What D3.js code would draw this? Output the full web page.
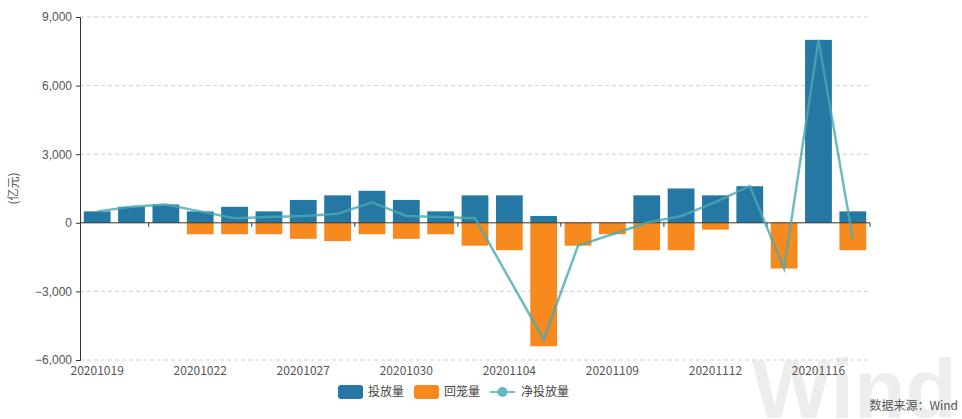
<!DOCTYPE html>
<html>
<head>
<meta charset="utf-8">
<script src="https://cdn.jsdelivr.net/npm/d3@7"></script>
<style>
  body { margin: 0; background: #fff; }
  svg { display: block; font-family: "Noto Sans CJK SC", "Noto Sans", sans-serif; }
</style>
</head>
<body>
<div id="chart"></div>
<script>
(function() {
    // Data (亿元)
    var dates = ["20201019", "20201020", "20201021", "20201022", "20201023", "20201026",
        "20201027", "20201028", "20201029", "20201030", "20201102", "20201103",
        "20201104", "20201105", "20201106", "20201109", "20201110", "20201111",
        "20201112", "20201113", "20201115", "20201116", "20201117"];
    var injection = [500, 700, 800, 500, 700, 500, 1000, 1200, 1400, 1000, 500, 1200,
        1200, 300, 0, 0, 1200, 1500, 1200, 1600, 0, 8000, 500];
    var maturity = [0, 0, 0, -500, -500, -500, -700, -800, -500, -700, -500, -1000,
        -1200, -5400, -1000, -500, -1200, -1200, -300, 0, -2000, 0, -1200];
    var netInjection = [500, 700, 800, 500, 200, 250, 300, 400, 900, 300, 250, 200,
        -2450, -5100, -1000, -500, 0, 300, 900, 1600, -2000, 8000, -700];
    var yTicks = [-6000, -3000, 0, 3000, 6000, 9000];
    var labelEvery = 3;
    var seriesNames = ["投放量", "回笼量", "净投放量"];

    var blue = "#2577a4", orange = "#f68a1e", teal = "#4aa9b1";

    var W = 962, H = 419;
    var margin = {top: 17, right: 92, bottom: 59, left: 80};
    var width = W - margin.left - margin.right,
        height = H - margin.top - margin.bottom;

    var svg = d3.select("#chart").append("svg")
        .attr("width", W)
        .attr("height", H);

    // Watermark behind everything
    svg.append("text")
        .attr("x", 752)
        .attr("y", 418)
        .attr("font-family", "Liberation Sans, Arial, sans-serif")
        .attr("font-weight", "bold")
        .attr("font-size", "84px")
        .attr("fill", "#ededed")
        .text("Wind");

    var g = svg.append("g")
        .attr("transform", "translate(" + margin.left + "," + margin.top + ")");

    // Scales
    var x = d3.scaleBand().domain(dates).range([0, width]).padding(0);
    var y = d3.scaleLinear().domain([-6000, 9000]).range([height, 0]);
    var bw = x.bandwidth() * 0.78;
    var off = (x.bandwidth() - bw) / 2;

    // Dashed grid lines
    g.selectAll(".grid")
        .data(yTicks.filter(function(d) { return d !== 0; }))
        .enter().append("line")
        .attr("x1", 0).attr("x2", width)
        .attr("y1", function(d) { return y(d); })
        .attr("y2", function(d) { return y(d); })
        .attr("stroke", "#cfcfcf")
        .attr("stroke-dasharray", "4,3");

    // Y axis
    var yAxis = g.append("g")
        .call(d3.axisLeft(y).tickValues(yTicks).tickFormat(d3.format(",")).tickSize(4).tickPadding(4));
    yAxis.select(".domain").attr("stroke", "#333");
    yAxis.selectAll(".tick line").attr("stroke", "#333");
    yAxis.selectAll("text").attr("font-size", "12px").attr("fill", "#555");

    // Y axis title
    g.append("text")
        .attr("transform", "translate(" + (14 - margin.left) + "," + y(1500) + ") rotate(-90)")
        .attr("text-anchor", "middle")
        .attr("dy", "0.35em")
        .attr("font-size", "12px")
        .attr("fill", "#555")
        .text("(亿元)");

    // Bars
    g.selectAll(".inj")
        .data(dates)
        .enter().append("rect")
        .attr("x", function(d) { return x(d) + off; })
        .attr("width", bw)
        .attr("y", function(d, i) { return y(Math.max(0, injection[i])); })
        .attr("height", function(d, i) { return Math.abs(y(injection[i]) - y(0)); })
        .attr("fill", blue);

    g.selectAll(".mat")
        .data(dates)
        .enter().append("rect")
        .attr("x", function(d) { return x(d) + off; })
        .attr("width", bw)
        .attr("y", y(0))
        .attr("height", function(d, i) { return Math.abs(y(maturity[i]) - y(0)); })
        .attr("fill", orange);

    // Category axis on zero
    var tickIdx = d3.range(labelEvery - 1, dates.length, labelEvery);
    g.append("line")
        .attr("x1", 0).attr("x2", width)
        .attr("y1", y(0)).attr("y2", y(0))
        .attr("stroke", "#333");
    g.selectAll(".xtick")
        .data(tickIdx.map(function(i) { return x(dates[i]); }).concat([width]))
        .enter().append("line")
        .attr("x1", function(d) { return d; })
        .attr("x2", function(d) { return d; })
        .attr("y1", y(0)).attr("y2", y(0) + 4)
        .attr("stroke", "#333");

    // Category labels along the bottom
    g.selectAll(".xlabel")
        .data(dates.filter(function(d, i) { return i % labelEvery === 0; }))
        .enter().append("text")
        .attr("x", function(d) { return x(d) + x.bandwidth() / 2; })
        .attr("y", height + 15)
        .attr("text-anchor", "middle")
        .attr("font-size", "12px")
        .attr("fill", "#555")
        .text(function(d) { return d; });

    // Net injection line
    var line = d3.line()
        .x(function(d, i) { return x(dates[i]) + x.bandwidth() / 2; })
        .y(function(d) { return y(d); });
    g.append("path")
        .datum(netInjection)
        .attr("d", line)
        .attr("fill", "none")
        .attr("stroke", teal)
        .attr("stroke-opacity", 0.8)
        .attr("stroke-width", 2.5);

    // Legend
    var legend = svg.append("g").attr("transform", "translate(0,392)");
    [blue, orange].forEach(function(c, i) {
        var lx = 338 + i * 76;
        legend.append("rect")
            .attr("x", lx).attr("y", -7)
            .attr("width", 25).attr("height", 14)
            .attr("rx", 3)
            .attr("fill", c);
        legend.append("text")
            .attr("x", lx + 30).attr("dy", "0.35em")
            .attr("font-size", "12px").attr("fill", "#444")
            .text(seriesNames[i]);
    });
    legend.append("line")
        .attr("x1", 490).attr("x2", 515)
        .attr("stroke", teal).attr("stroke-width", 1.5);
    legend.append("circle")
        .attr("cx", 502.5).attr("r", 5)
        .attr("fill", "#5fbcc3");
    legend.append("text")
        .attr("x", 521).attr("dy", "0.35em")
        .attr("font-size", "12px").attr("fill", "#444")
        .text(seriesNames[2]);

    // Source note
    svg.append("text")
        .attr("x", 958).attr("y", 410)
        .attr("text-anchor", "end")
        .attr("font-size", "12px")
        .attr("fill", "#555")
        .text("数据来源：Wind");
})();
</script>
</body>
</html>
